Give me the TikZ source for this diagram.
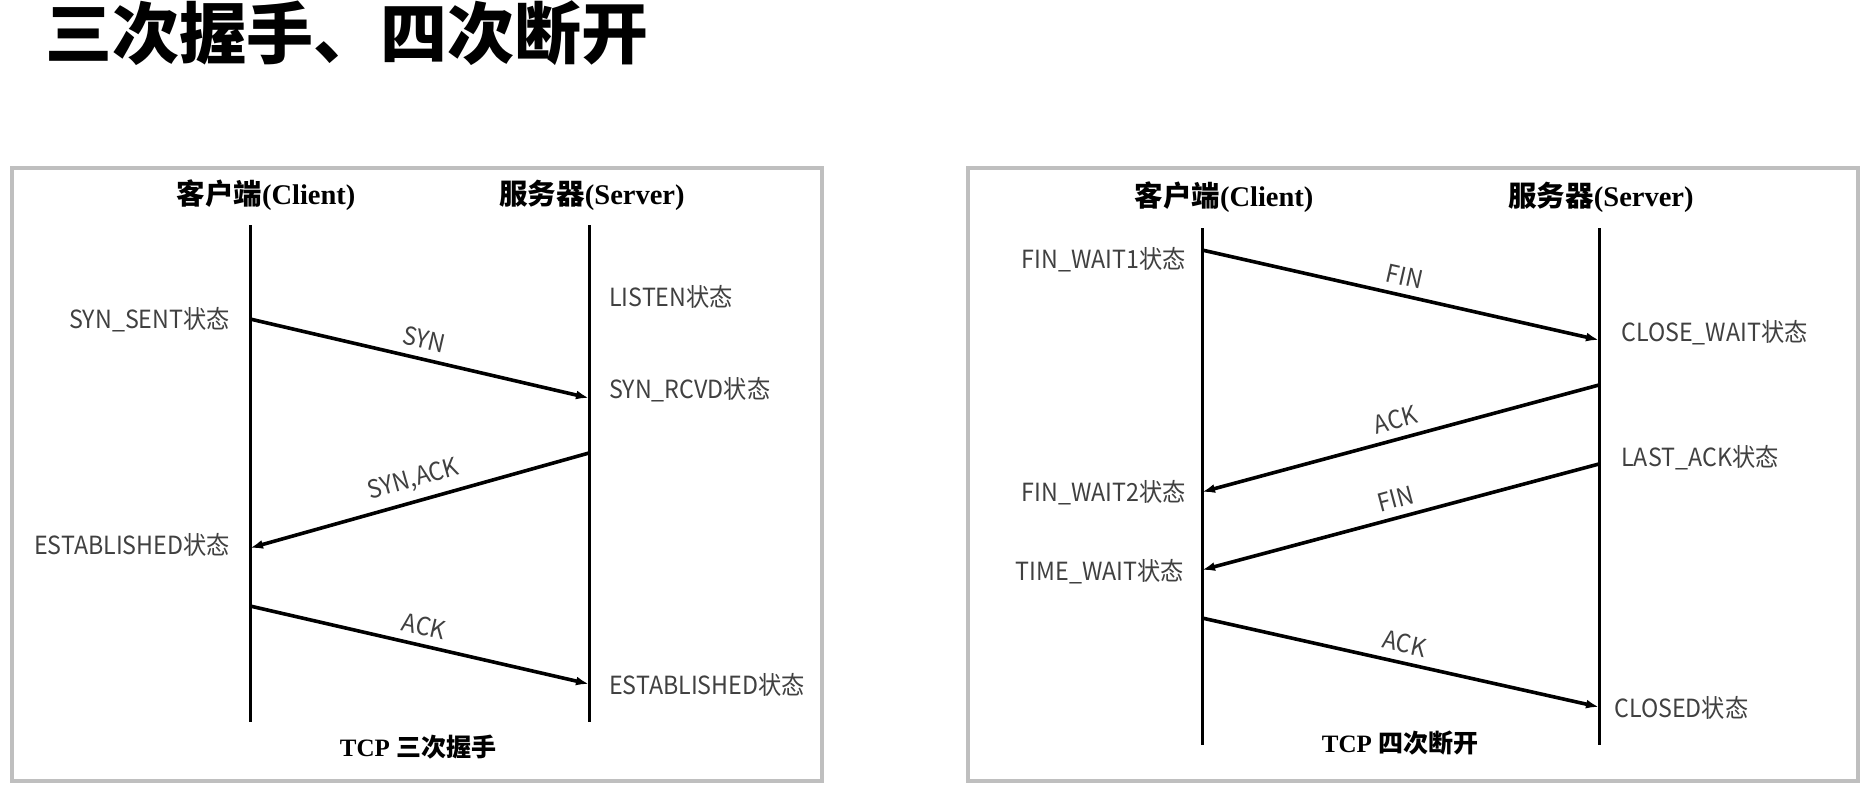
\documentclass[tikz,border=0pt]{standalone}
\usepackage{fontspec}
\setmainfont{Liberation Serif}
\newfontfamily\cjk{Noto Sans CJK SC}
\newfontfamily\cjkn[FakeStretch=0.93]{Noto Sans CJK SC}
\usetikzlibrary{arrows.meta}
\begin{document}
\begin{tikzpicture}[x=1pt,y=-1pt,
  frame/.style={draw=black!25, line width=4.5pt},
  life/.style={line width=3pt},
  msg/.style={line width=3.6pt, -{Latex[length=13pt,width=9pt]}},
  state/.style={font={\cjkn\fontsize{25}{29}\selectfont}, text=black!75, inner sep=0pt},
  lbl/.style={font={\cjkn\fontsize{25}{29}\selectfont}, text=black!75, sloped, above, inner sep=8pt, midway},
  head/.style={font={\bfseries\fontsize{28.5}{32}\selectfont}, inner sep=0pt},
  captxt/.style={font={\bfseries\fontsize{25}{29}\selectfont}, inner sep=0pt}]
\fill[white] (0,0) rectangle (1874,789);
\useasboundingbox (0,0) rectangle (1874,789);

% title
\node[anchor=west, inner sep=0pt, font={\cjk\bfseries\fontsize{67}{72}\selectfont}] (title) at (45,33) {三次握手、四次断开};

% frames
\draw[frame] (12,168) rectangle (822,781);
\draw[frame] (968,168) rectangle (1858,781);

% ---------- left panel: three-way handshake ----------
\node[head] (lch) at (266,195) {{\cjk\bfseries 客户端}(Client)};
\node[head] (lsh) at (592,195) {{\cjk\bfseries 服务器}(Server)};
\coordinate (LCt) at (250,225); \coordinate (LCb) at (250,722);
\coordinate (LSt) at (589,225); \coordinate (LSb) at (589,722);
\draw[life] (LCt) -- (LCb);
\draw[life] (LSt) -- (LSb);

\coordinate (a1) at (250,319); \coordinate (b1) at (589,398);
\coordinate (a2) at (589,453); \coordinate (b2) at (250,548);
\coordinate (a3) at (250,606); \coordinate (b3) at (589,684);
\draw[msg] (a1) -- node[lbl] {SYN} (b1);
\draw[msg] (a2) -- node[lbl] {SYN,ACK} (b2);
\draw[msg] (a3) -- node[lbl] {ACK} (b3);

\node[state, anchor=east] (ls1) at (230,320) {SYN\_SENT状态};
\node[state, anchor=west] (ls2) at (609,297) {LISTEN状态};
\node[state, anchor=west] (ls3) at (609,390) {SYN\_RCVD状态};
\node[state, anchor=east] (ls4) at (230,545) {ESTABLISHED状态};
\node[state, anchor=west] (ls5) at (609,685) {ESTABLISHED状态};
\node[captxt] (lcap) at (418,747) {TCP {\cjk\bfseries 三次握手}};

% ---------- right panel: four-way teardown ----------
\node[head] (rch) at (1224,197) {{\cjk\bfseries 客户端}(Client)};
\node[head] (rsh) at (1601,197) {{\cjk\bfseries 服务器}(Server)};
\coordinate (RCt) at (1202,228); \coordinate (RCb) at (1202,745);
\coordinate (RSt) at (1599,228); \coordinate (RSb) at (1599,745);
\draw[life] (RCt) -- (RCb);
\draw[life] (RSt) -- (RSb);

\coordinate (c1) at (1202,250); \coordinate (d1) at (1599,340);
\coordinate (c2) at (1599,385); \coordinate (d2) at (1202,492);
\coordinate (c3) at (1599,464); \coordinate (d3) at (1202,570);
\coordinate (c4) at (1202,618); \coordinate (d4) at (1599,707);
\draw[msg] (c1) -- node[lbl] {FIN} (d1);
\draw[msg] (c2) -- node[lbl] {ACK} (d2);
\draw[msg] (c3) -- node[lbl] {FIN} (d3);
\draw[msg] (c4) -- node[lbl] {ACK} (d4);

\node[state, anchor=east] (rs1) at (1186,260) {FIN\_WAIT1状态};
\node[state, anchor=west] (rs2) at (1621,333) {CLOSE\_WAIT状态};
\node[state, anchor=west] (rs3) at (1621,458) {LAST\_ACK状态};
\node[state, anchor=east] (rs4) at (1186,493) {FIN\_WAIT2状态};
\node[state, anchor=east] (rs5) at (1184,572) {TIME\_WAIT状态};
\node[state, anchor=west] (rs6) at (1614,708) {CLOSED状态};
\node[captxt] (rcap) at (1400,743) {TCP {\cjk\bfseries 四次断开}};
\end{tikzpicture}
\end{document}
